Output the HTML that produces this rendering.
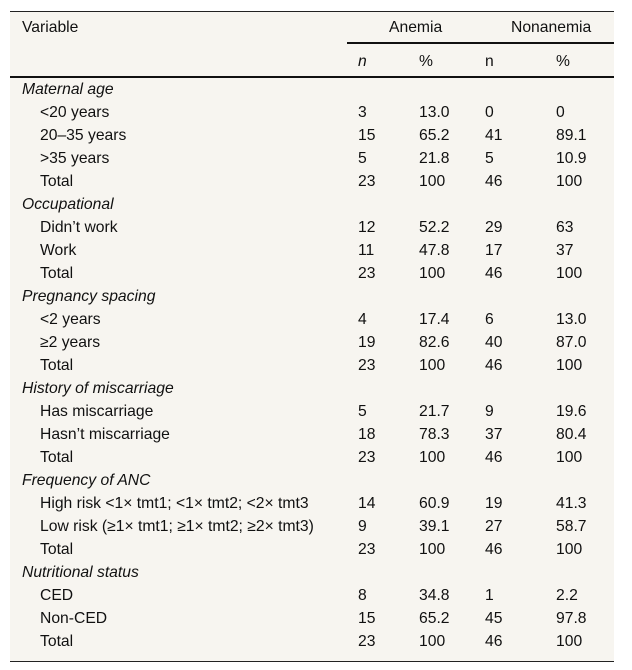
<!DOCTYPE html>
<html><head><meta charset="utf-8"><style>
body{margin:0;background:#fff;width:632px;height:670px;position:relative;font-family:"Liberation Sans",sans-serif;font-size:15.7px;color:#111}
#tbl{position:absolute;left:10px;top:11px;width:604px;height:649px;background:#f7f5f0;border-top:1px solid #222;border-bottom:1px solid #222}
.t{position:absolute;white-space:nowrap;line-height:18px}
.ln{position:absolute;background:#111}
</style></head><body>
<div id="tbl"></div>
<script>
const labels=["Maternal age","<20 years","20–35 years",">35 years","Total","Occupational","Didn’t work","Work","Total","Pregnancy spacing","<2 years","≥2 years","Total","History of miscarriage","Has miscarriage","Hasn’t miscarriage","Total","Frequency of ANC","High risk <1× tmt1; <1× tmt2; <2× tmt3","Low risk (≥1× tmt1; ≥1× tmt2; ≥2× tmt3)","Total","Nutritional status","CED","Non-CED","Total"];
const anemiaN=[null,"3","15","5","23",null,"12","11","23",null,"4","19","23",null,"5","18","23",null,"14","9","23",null,"8","15","23"];
const anemiaP=[null,"13.0","65.2","21.8","100",null,"52.2","47.8","100",null,"17.4","82.6","100",null,"21.7","78.3","100",null,"60.9","39.1","100",null,"34.8","65.2","100"];
const nonN=[null,"0","41","5","46",null,"29","17","46",null,"6","40","46",null,"9","37","46",null,"19","27","46",null,"1","45","46"];
const nonP=[null,"0","89.1","10.9","100",null,"63","37","100",null,"13.0","87.0","100",null,"19.6","80.4","100",null,"41.3","58.7","100",null,"2.2","97.8","100"];
const b=document.body;
function add(txt,x,y,cls,italic,name){const d=document.createElement('div');d.className='t';d.textContent=txt;d.style.left=x+'px';d.style.top=(y-8)+'px';if(italic)d.style.fontStyle='italic';


b.appendChild(d);}
function line(x,y,w,h,name){const d=document.createElement('div');d.className='ln';d.style.left=x+'px';d.style.top=y+'px';d.style.width=w+'px';d.style.height=h+'px';


b.appendChild(d);}
add("Variable",22,27,'',false,'header-variable');
add("Anemia",389,27,'',false,'header-anemia');
add("Nonanemia",511,27,'',false,'header-nonanemia');
line(347,42,267,2,'anemia-group-rule');
add("n",358,61,'',true,'header-anemia-n');
add("%",419,61,'',false,'header-anemia-pct');
add("n",485,61,'',false,'header-nonanemia-n');
add("%",556,61,'',false,'header-nonanemia-pct');
line(10,76,604,2,'header-rule');
labels.forEach((l,i)=>{const y=89+i*23;const cat=anemiaN[i]===null;
add(l,cat?22:40,y,'',cat,cat?'category-label':'row-label');
if(!cat){add(anemiaN[i],358,y,'',false,'anemia-n-cell');add(anemiaP[i],419,y,'',false,'anemia-pct-cell');add(nonN[i],485,y,'',false,'nonanemia-n-cell');add(nonP[i],556,y,'',false,'nonanemia-pct-cell');}});
</script>
</body></html>
